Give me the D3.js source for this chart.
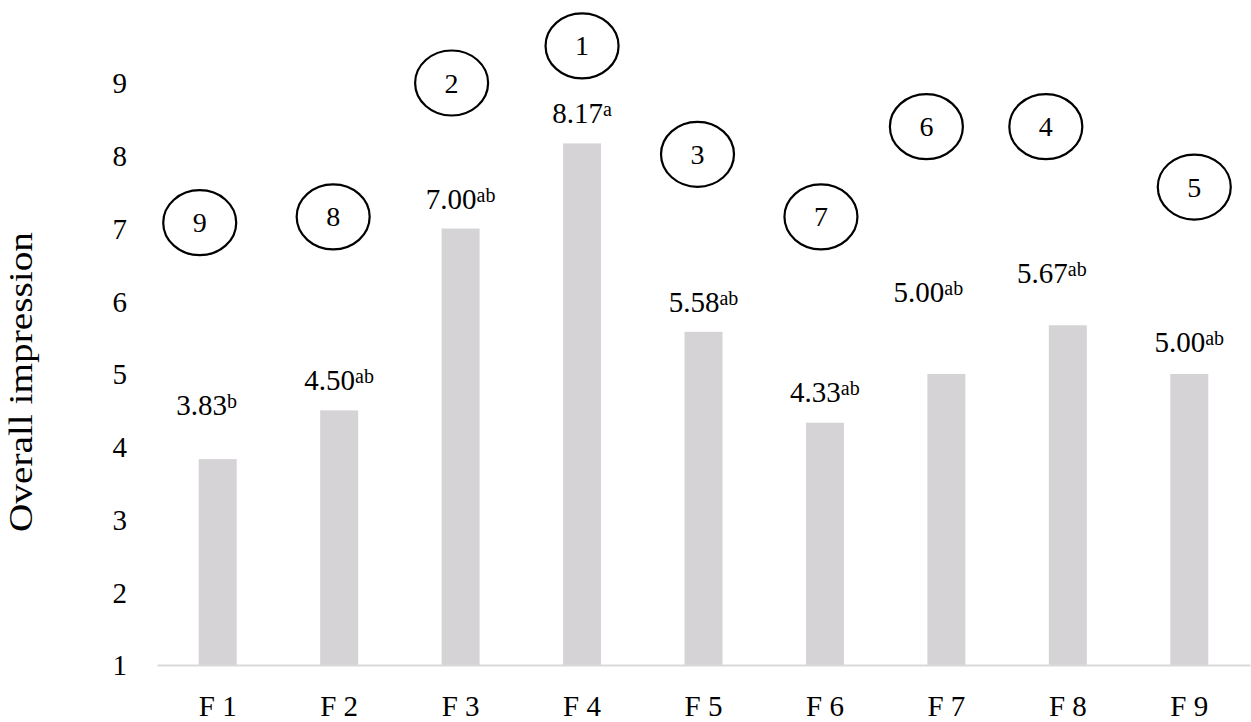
<!DOCTYPE html>
<html>
<head>
<meta charset="utf-8">
<script src="https://cdn.jsdelivr.net/npm/d3@7"></script>
<style>
  html, body { margin: 0; padding: 0; background: #ffffff; }
  svg { display: block; }
</style>
</head>
<body>
<svg id="chart" width="1251" height="722"></svg>
<script>
// Formulations and their mean overall-impression scores
const categories = ["F 1", "F 2", "F 3", "F 4", "F 5", "F 6", "F 7", "F 8", "F 9"];
const means = [3.83, 4.50, 7.00, 8.17, 5.58, 4.33, 5.00, 5.67, 5.00];
// Significance letters shown as superscripts
const letters = ["b", "ab", "ab", "a", "ab", "ab", "ab", "ab", "ab"];
// Preference rank of each formulation (circled numbers)
const ranks = [9, 8, 2, 1, 3, 7, 6, 4, 5];
// Y-axis ticks
const yTicks = [1, 2, 3, 4, 5, 6, 7, 8, 9];

// Placement of the annotations (layout only)
const labelLift = [44, 20, 20, 20, 20, 21, 72, 42, 22];      // px above bar top
const labelShiftX = [-11, 0, 0, 0, 0, 0, -18, -16, 0];       // px from bar centre
const badgeLevel = [7.08, 7.16, 9.0, 9.51, 8.02, 7.16, 8.40, 8.40, 7.57]; // on value axis
const badgeShiftX = [-18, -6, -9, 0, -6, -4, -20, -22, 5];   // px from bar centre

const SERIF = '"Liberation Serif", "DejaVu Serif", serif';

const svg = d3.select("#chart");
const plotLeft = 157, plotRight = 1250, plotTop = 83, plotBottom = 665;

const x = d3.scaleBand()
  .domain(categories)
  .range([plotLeft, plotRight])
  .paddingInner(0.687)
  .paddingOuter(0.687 / 2);

const y = d3.scaleLinear().domain([1, 9]).range([plotBottom, plotTop]);

const rows = categories.map((c, i) => ({
  cat: c, mean: means[i], letter: letters[i], rank: ranks[i], i
}));

// Bars
svg.append("g").selectAll("rect")
  .data(rows)
  .join("rect")
  .attr("x", d => x(d.cat))
  .attr("width", x.bandwidth())
  .attr("y", d => y(d.mean))
  .attr("height", d => y(1) - y(d.mean))
  .attr("fill", "#d6d3d7");

// Category axis (baseline + labels)
const xAxis = svg.append("g")
  .attr("transform", `translate(0,${plotBottom})`)
  .call(d3.axisBottom(x).tickSize(0).tickPadding(0));
xAxis.select(".domain").attr("stroke", "#d9d9d9").attr("stroke-width", 2);
xAxis.selectAll("text")
  .style("font-family", SERIF)
  .style("font-size", "29px")
  .attr("fill", "#000")
  .attr("dy", null)
  .attr("y", 51);

// Value axis (labels only)
const yAxis = svg.append("g")
  .attr("transform", `translate(${plotLeft},0)`)
  .call(d3.axisLeft(y).tickValues(yTicks).tickFormat(d3.format("d")).tickSize(0).tickPadding(30));
yAxis.select(".domain").remove();
yAxis.selectAll("text")
  .style("font-family", SERIF)
  .style("font-size", "29px")
  .attr("fill", "#000")
  .attr("dy", "0.34em");

// Axis title
svg.append("text")
  .attr("transform", "translate(32,382) rotate(-90)")
  .attr("text-anchor", "middle")
  .style("font-family", SERIF)
  .style("font-size", "33px")
  .attr("textLength", 300)
  .attr("lengthAdjust", "spacingAndGlyphs")
  .text("Overall impression");

// Mean value labels with significance letters
const labels = svg.append("g").selectAll("text")
  .data(rows)
  .join("text")
  .attr("text-anchor", "middle")
  .attr("x", d => x(d.cat) + x.bandwidth() / 2 + labelShiftX[d.i])
  .attr("y", d => y(d.mean) - labelLift[d.i])
  .style("font-family", SERIF)
  .style("font-size", "29px");
labels.append("tspan").text(d => d.mean.toFixed(2));
labels.append("tspan")
  .style("font-size", "20px")
  .attr("dy", -7)
  .text(d => d.letter);

// Circled preference ranks
const badges = svg.append("g").selectAll("g")
  .data(rows)
  .join("g")
  .attr("transform", d =>
    `translate(${x(d.cat) + x.bandwidth() / 2 + badgeShiftX[d.i]},${y(badgeLevel[d.i])})`);
badges.append("ellipse")
  .attr("rx", 36.5)
  .attr("ry", 32.5)
  .attr("fill", "none")
  .attr("stroke", "#000")
  .attr("stroke-width", 2.2);
badges.append("text")
  .attr("text-anchor", "middle")
  .attr("dy", "0.34em")
  .style("font-family", SERIF)
  .style("font-size", "28px")
  .text(d => d.rank);
</script>
</body>
</html>
